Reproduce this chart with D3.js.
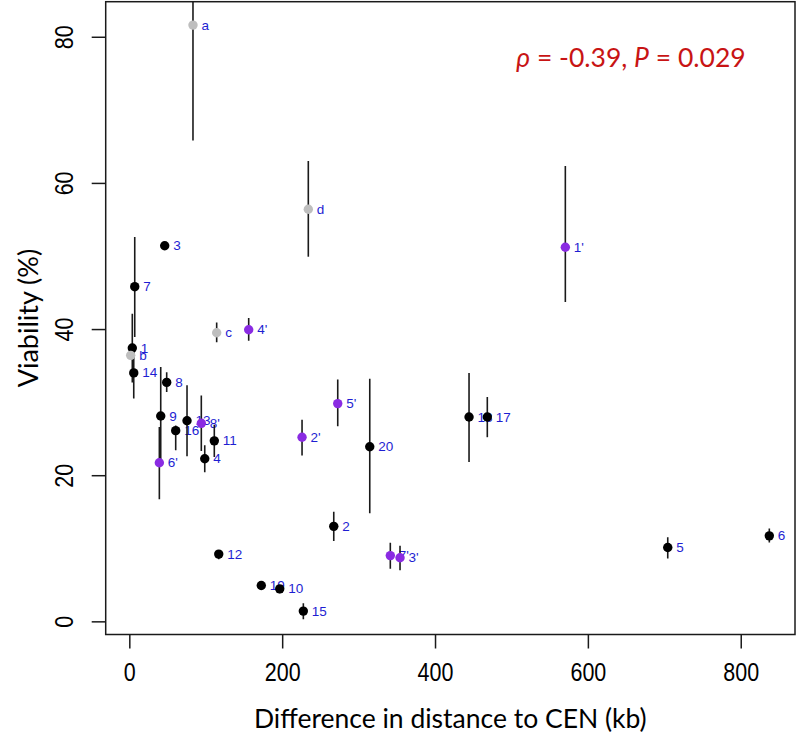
<!DOCTYPE html>
<html lang="en">
<head>
<meta charset="utf-8">
<title>Viability vs difference in distance to CEN</title>
<script src="https://cdn.jsdelivr.net/npm/d3@7"></script>
<style>
  body { margin: 0; background: #fff; }
</style>
</head>
<body>
<div class="chart"></div>
<script>
// point names, x = difference in distance to CEN (kb), y = viability (%), error bar ends
const names = ["a", "d", "3", "7", "1'", "c", "4'", "1", "b", "14", "8", "9", "6'", "16", "13", "8'", "4", "11",
               "5'", "2'", "20", "2", "12", "7'", "3'", "19", "10", "15", "18", "17", "5", "6"];
const dist = [83.3, 234.2, 46.3, 7.1, 570.5, 114.3, 156.2, 3.9, 1.8, 5.8, 48.9, 41.1, 39.3, 60.7, 75.5, 94.2, 98.7, 111.2,
              272.7, 226.0, 314.6, 267.5, 117.0, 341.5, 354.2, 172.7, 196.8, 227.7, 444.5, 468.4, 704.5, 837.4];
const viab = [81.6, 56.4, 51.4, 45.8, 51.2, 39.5, 39.9, 37.4, 36.4, 34.0, 32.7, 28.1, 21.7, 26.1, 27.45, 27.1, 22.25, 24.7,
              29.8, 25.2, 23.9, 13.0, 9.2, 9.0, 8.7, 4.9, 4.45, 1.4, 27.96, 27.96, 10.1, 11.7];
const errLo = [65.8, 49.9, 51.4, 38.9, 43.7, 38.2, 38.4, 32.7, 36.4, 30.5, 31.4, 21.4, 16.7, 23.4, 22.6, 23.3, 20.4, 22.5,
               26.7, 22.7, 14.8, 11.0, 8.5, 7.2, 7.0, 4.9, 3.83, 0.27, 21.8, 25.2, 8.6, 10.8];
const errHi = [97.4, 63.0, 51.4, 52.6, 62.3, 40.9, 41.5, 42.1, 36.4, 37.5, 34.1, 34.8, 26.6, 26.8, 32.3, 30.9, 24.1, 26.9,
               33.1, 27.6, 33.2, 15.0, 9.75, 10.75, 10.35, 4.9, 4.97, 2.46, 34.0, 30.7, 11.5, 12.7];
// black = numbered, gray = letters, purple = primed
const groups = ["gray", "gray", "black", "black", "purple", "gray", "purple", "black", "gray", "black", "black", "black",
                "purple", "black", "black", "purple", "black", "black", "purple", "purple", "black", "black", "black",
                "purple", "purple", "black", "black", "black", "black", "black", "black", "black"];
const xTicks = [0, 200, 400, 600, 800];
const yTicks = [0, 20, 40, 60, 80];

const colors = { black: "#000", gray: "#bebebe", purple: "#8a2be2" };

const W = 796, H = 747;
const box = { left: 105.7, right: 795, top: 1.7, bottom: 634.5 };
const tickFont = "Liberation Sans, Arial, sans-serif";
const titleFont = "Lato, Open Sans, sans-serif";

const svg = d3.select(".chart")
    .append("svg")
    .attr("width", W)
    .attr("height", H);

const x = d3.scaleLinear().domain([-30.9, 871]).range([box.left, box.right]);
const y = d3.scaleLinear().domain([-1.8, 84.8]).range([box.bottom, box.top]);

const pts = names.map((n, i) => ({ name: n, x: dist[i], y: viab[i], lo: errLo[i], hi: errHi[i], g: groups[i] }));

svg.append("clipPath")
    .attr("id", "plotclip")
    .append("rect")
    .attr("x", box.left)
    .attr("y", box.top)
    .attr("width", box.right - box.left)
    .attr("height", box.bottom - box.top);

const plot = svg.append("g").attr("clip-path", "url(#plotclip)");

// labels first, points end up on top of them like in the original
plot.append("g")
    .selectAll("text")
    .data(pts)
    .join("text")
    .attr("x", d => x(d.x) + 8.5)
    .attr("y", d => y(d.y))
    .attr("dominant-baseline", "central")
    .attr("font-family", tickFont)
    .attr("font-size", "13.5px")
    .attr("fill", "#1e1ed2")
    .text(d => d.name);

plot.append("g")
    .selectAll("line")
    .data(pts.filter(d => d.hi > d.lo))
    .join("line")
    .attr("x1", d => x(d.x))
    .attr("x2", d => x(d.x))
    .attr("y1", d => y(d.hi))
    .attr("y2", d => y(d.lo))
    .attr("stroke", "#1a1a1a")
    .attr("stroke-width", 1.6);

plot.append("g")
    .selectAll("circle")
    .data(pts)
    .join("circle")
    .attr("cx", d => x(d.x))
    .attr("cy", d => y(d.y))
    .attr("r", 4.7)
    .attr("fill", d => colors[d.g]);

// frame
svg.append("rect")
    .attr("x", box.left)
    .attr("y", box.top)
    .attr("width", box.right - box.left)
    .attr("height", box.bottom - box.top)
    .attr("fill", "none")
    .attr("stroke", "#1a1a1a")
    .attr("stroke-width", 1.5);

// tick labels are narrow in the original, squeeze them a little
const xAxis = svg.append("g")
    .attr("transform", `translate(0,${box.bottom})`)
    .call(d3.axisBottom(x).tickValues(xTicks).tickSize(14).tickFormat(d3.format("d")));
xAxis.select(".domain").remove();
xAxis.selectAll("line").attr("stroke", "#1a1a1a").attr("stroke-width", 1.5);
xAxis.selectAll("text")
    .attr("y", null)
    .attr("dy", null)
    .attr("transform", "translate(0,38) scale(0.86,1)")
    .attr("dominant-baseline", "central")
    .attr("font-family", tickFont)
    .attr("font-size", "25px")
    .attr("fill", "#000");

const yAxis = svg.append("g")
    .attr("transform", `translate(${box.left},0)`)
    .call(d3.axisLeft(y).tickValues(yTicks).tickSize(14).tickFormat(d3.format("d")));
yAxis.select(".domain").remove();
yAxis.selectAll("line").attr("stroke", "#1a1a1a").attr("stroke-width", 1.5);
yAxis.selectAll("text")
    .attr("x", null)
    .attr("dy", null)
    .attr("transform", "translate(-41,0) rotate(-90) scale(0.86,1)")
    .attr("text-anchor", "middle")
    .attr("dominant-baseline", "central")
    .attr("font-family", tickFont)
    .attr("font-size", "25px")
    .attr("fill", "#000");

// axis titles
svg.append("text")
    .attr("x", (box.left + box.right) / 2)
    .attr("y", 718)
    .attr("text-anchor", "middle")
    .attr("dominant-baseline", "central")
    .attr("font-family", titleFont)
    .attr("font-size", "26.5px")
    .attr("fill", "#000")
    .text("Difference in distance to CEN (kb)");

svg.append("text")
    .attr("transform", `translate(27,${(box.top + box.bottom) / 2}) rotate(-90)`)
    .attr("text-anchor", "middle")
    .attr("dominant-baseline", "central")
    .attr("font-family", titleFont)
    .attr("font-size", "27px")
    .attr("fill", "#000")
    .text("Viability (%)");

// correlation note
const note = svg.append("text")
    .attr("x", 631)
    .attr("y", 57)
    .attr("text-anchor", "middle")
    .attr("dominant-baseline", "central")
    .attr("font-family", titleFont)
    .attr("font-size", "26.5px")
    .attr("fill", "#c81414");
note.append("tspan").attr("font-style", "italic").text("ρ");
note.append("tspan").text(" = -0.39, ");
note.append("tspan").attr("font-style", "italic").text("P");
note.append("tspan").text(" = 0.029");
</script>
</body>
</html>
